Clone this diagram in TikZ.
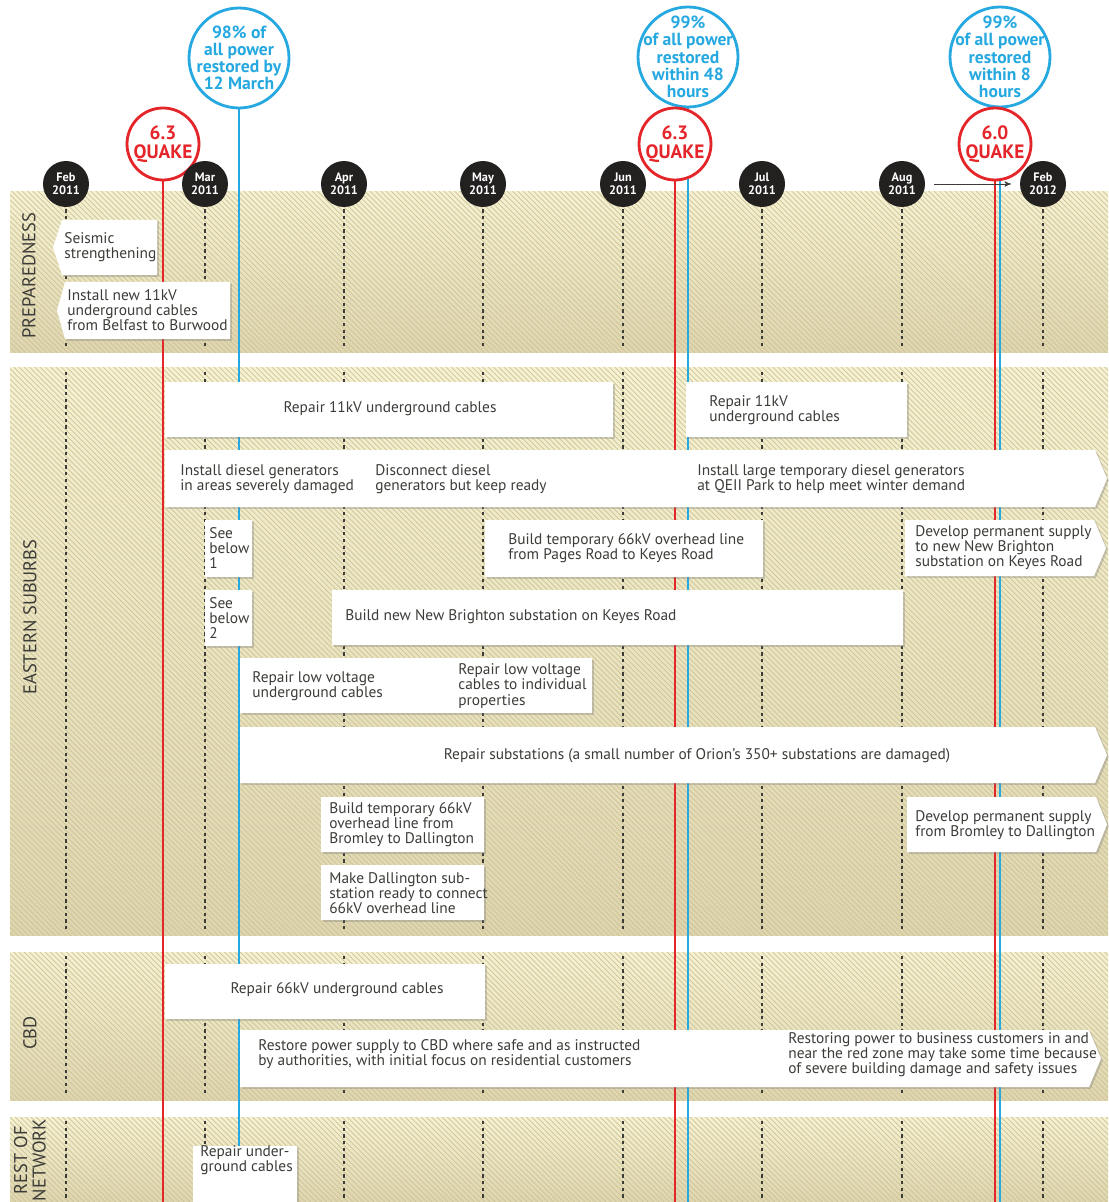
\documentclass[tikz,border=0pt]{standalone}
\usepackage{fontspec}
\setmainfont{PT Sans}
\usetikzlibrary{positioning, arrows, arrows.meta, patterns, shadows}

\definecolor{quakered}{RGB}{228,37,42}
\definecolor{powerblue}{RGB}{38,168,224}
\definecolor{bandtop}{RGB}{245,241,210}
\definecolor{bandbot}{RGB}{222,213,175}
\definecolor{hatch}{RGB}{205,195,150}
\definecolor{ink}{RGB}{60,60,56}
\definecolor{dot}{RGB}{35,32,32}

\begin{document}
\begin{tikzpicture}[x=0.02cm, y=-0.02cm,
    bandfill/.style={top color=bandtop, bottom color=bandbot, draw=none},
    hatching/.style={pattern=north west lines, pattern color=hatch},
    monthline/.style={ink, line width=0.8pt, dash pattern=on 1.8pt off 2pt},
    monthdot/.style={circle, fill=dot, text=white, minimum size=0.92cm, inner sep=0pt,
                     align=center, font=\bfseries\fontsize{7}{7.4}\selectfont},
    quakering/.style={circle, draw=quakered, line width=1.6pt, fill=white, minimum size=1.44cm, inner sep=0pt},
    powerring/.style={circle, draw=powerblue, line width=1.6pt, fill=white, minimum size=2cm, inner sep=0pt},
    quaketext/.style={text=quakered, align=center, font=\bfseries\fontsize{11}{10.5}\selectfont},
    powertext/.style={text=powerblue, align=center, font=\bfseries\fontsize{10}{9.8}\selectfont},
    quakeline/.style={quakered, line width=1.6pt},
    powerline/.style={powerblue, line width=1.6pt},
    task/.style={fill=white, drop shadow={shadow xshift=1pt, shadow yshift=-1.1pt, opacity=.35}},
    txt/.style={anchor=west, align=left, inner sep=0pt, text=ink, font=\fontsize{8.75}{8.6}\selectfont},
    ctxt/.style={txt, anchor=center, align=center},
    side/.style={rotate=90, align=center, text=ink, font=\fontsize{10.5}{10.5}\selectfont}]

    \useasboundingbox (0,0) rectangle (1108,1202);
    \fill[white] (0,0) rectangle (1108,1202);
    \coordinate (bot) at (0,1202);

    % bands
    \foreach \yt/\yb in {192/353, 368/935, 952/1100, 1117/1202} {
        \shade[bandfill] (10,\yt) rectangle (1108,\yb);
        \fill[hatching] (10,\yt) rectangle (1108,\yb);
        \foreach \mx in {66,205,344,483,623,762,902,1043}
            \draw[monthline] (\mx,\yt+4) -- (\mx,\yb-4);
    }

    \node[side] (prep) at (29,276) {PREPAREDNESS};
    \node[side] (east) at (30,617) {EASTERN SUBURBS};
    \node[side] (cbd) at (30,1033) {CBD};
    \node[side] (rest) at (30,1160) {REST OF\\NETWORK};

    % quake and restore lines
    \coordinate (q1) at (163,144);
    \coordinate (q2) at (675,144);
    \coordinate (q3) at (995,144);
    \coordinate (p1) at (239,58);
    \coordinate (p2) at (688,57);
    \coordinate (p3) at (1000,57);
    \foreach \q in {q1,q2,q3}
        \draw[quakeline] (\q) -- (\q |- bot);
    \foreach \p in {p1,p2,p3}
        \draw[powerline] (\p) -- (\p |- bot);

    % preparedness
    \path[task] (53,247.5) -- (62,220) -- (157,220) -- (157,275) -- (62,275) -- cycle;
    \path[task] (57,310.5) -- (65,282) -- (230,282) -- (230,339) -- (65,339) -- cycle;
    \node[txt] (seismic) at (64,247) {Seismic\\strengthening};
    \node[txt] (belfast) at (67,310) {Install new 11kV\\underground cables\\from Belfast to Burwood};

    % eastern suburbs
    \path[task] (165,382) rectangle (613,437);
    \path[task] (686,382) rectangle (907,437);
    \path[task] (165,450) -- (1095,450) -- (1107,478.5) -- (1095,507) -- (165,507) -- cycle;
    \path[task] (205,520) rectangle (252,577);
    \path[task] (485,520) rectangle (763,577);
    \path[task] (905,520) -- (1094,520) -- (1106,548) -- (1094,576) -- (905,576) -- cycle;
    \path[task] (205,590) rectangle (252,646);
    \path[task] (332,590) rectangle (903,645);
    \path[task] (240,658) rectangle (592,713);
    \path[task] (240,727) -- (1095,727) -- (1107,755) -- (1095,783) -- (240,783) -- cycle;
    \path[task] (321,797) rectangle (484,852);
    \path[task] (321,865) rectangle (484,920);
    \path[task] (907,797) -- (1096,797) -- (1107,824.5) -- (1096,852) -- (907,852) -- cycle;

    \node[ctxt] (cable11) at (390,409) {Repair 11kV underground cables};
    \node[txt] (cable11b) at (709,410) {Repair 11kV\\underground cables};
    \node[txt] (diesel) at (180,479) {Install diesel generators\\in areas severely damaged};
    \node[txt] (disconnect) at (375,479) {Disconnect diesel\\generators but keep ready};
    \node[txt] (qeii) at (697,479) {Install large temporary diesel generators\\at QEII Park to help meet winter demand};
    \node[txt] (seeone) at (209,548) {See\\below\\1};
    \node[txt] (pages) at (508,548) {Build temporary 66kV overhead line\\from Pages Road to Keyes Road};
    \node[txt] (keyes) at (915,548) {Develop permanent supply\\to new New Brighton\\substation on Keyes Road};
    \node[txt] (seetwo) at (209,618) {See\\below\\2};
    \node[txt] (brighton) at (345,617) {Build new New Brighton substation on Keyes Road};
    \node[txt] (lowvolt) at (252,686) {Repair low voltage\\underground cables};
    \node[txt] (lowprop) at (458,686) {Repair low voltage\\cables to individual\\properties};
    \node[ctxt] (substn) at (697,756) {Repair substations (a small number of Orion's 350+ substations are damaged)};
    \node[txt] (bromley) at (329,825) {Build temporary 66kV\\overhead line from\\Bromley to Dallington};
    \node[txt] (dallington) at (329,893) {Make Dallington sub-\\station ready to connect\\66kV overhead line};
    \node[txt] (dalsupply) at (915,825) {Develop permanent supply\\from Bromley to Dallington};

    % cbd
    \path[task] (165,964) rectangle (485,1019);
    \path[task] (240,1030) -- (1089,1030) -- (1101,1058.5) -- (1089,1087) -- (240,1087) -- cycle;
    \node[ctxt] (cable66) at (337,990) {Repair 66kV underground cables};
    \node[txt] (cbdpower) at (258,1054) {Restore power supply to CBD where safe and as instructed\\by authorities, with initial focus on residential customers};
    \node[txt] (redzone) at (788,1055) {Restoring power to business customers in and\\near the red zone may take some time because\\of severe building damage and safety issues};

    % rest of network
    \path[task] (193,1146) rectangle (297,1212);
    \node[txt] (undergr) at (200,1160) {Repair under-\\ground cables};

    % circles
    \node[powerring, label={[powertext]center:{98\% of\\all power\\restored by\\12 March}}] (r1) at (p1) {};
    \node[powerring, label={[powertext]center:{99\%\\of all power\\restored\\within 48\\hours}}] (r2) at (p2) {};
    \node[powerring, label={[powertext]center:{99\%\\of all power\\restored\\within 8\\hours}}] (r3) at (p3) {};
    \node[quakering, label={[quaketext]center:{6.3\\QUAKE}}] (k1) at (q1) {};
    \node[quakering, label={[quaketext]center:{6.3\\QUAKE}}] (k2) at (q2) {};
    \node[quakering, label={[quaketext]center:{6.0\\QUAKE}}] (k3) at (q3) {};

    \foreach \mx/\mn/\yr [count=\i] in {66/Feb/2011, 205/Mar/2011, 344/Apr/2011, 483/May/2011,
                                        623/Jun/2011, 762/Jul/2011, 902/Aug/2011, 1043/Feb/2012}
        \node[monthdot] (m\i) at (\mx,184) {\mn\\\yr};

    \draw[->, >=stealth', ink, thin, shorten <=5pt, shorten >=5pt] (m7) -- (m8);
\end{tikzpicture}
\end{document}
